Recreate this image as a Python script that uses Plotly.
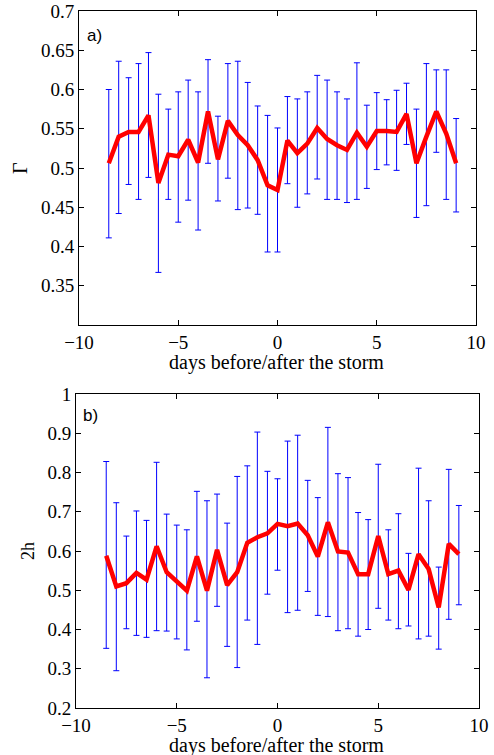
import plotly.graph_objects as go
import numpy as np

days = [-8.5, -8, -7.5, -7, -6.5, -6, -5.5, -5, -4.5, -4, -3.5, -3, -2.5, -2, -1.5, -1, -0.5, 0,
        0.5, 1, 1.5, 2, 2.5, 3, 3.5, 4, 4.5, 5, 5.5, 6, 6.5, 7, 7.5, 8, 8.5, 9]

gamma_mean = [0.506, 0.540, 0.546, 0.546, 0.567, 0.481, 0.517, 0.515, 0.536, 0.507, 0.572, 0.511,
              0.560, 0.542, 0.529, 0.510, 0.478, 0.472, 0.535, 0.519, 0.531, 0.551, 0.537, 0.529,
              0.523, 0.545, 0.527, 0.547, 0.547, 0.546, 0.569, 0.506, 0.540, 0.572, 0.544, 0.506]
gamma_upper = [0.600, 0.636, 0.615, 0.633, 0.647, 0.594, 0.575, 0.597, 0.612, 0.597, 0.638, 0.566,
               0.633, 0.636, 0.609, 0.579, 0.567, 0.551, 0.591, 0.588, 0.597, 0.618, 0.612, 0.597,
               0.588, 0.634, 0.580, 0.596, 0.587, 0.599, 0.608, 0.575, 0.633, 0.625, 0.625, 0.563]
gamma_lower = [0.411, 0.442, 0.479, 0.460, 0.488, 0.367, 0.460, 0.431, 0.459, 0.421, 0.506, 0.458,
               0.487, 0.447, 0.449, 0.441, 0.393, 0.393, 0.480, 0.450, 0.467, 0.486, 0.460, 0.460,
               0.456, 0.460, 0.474, 0.498, 0.504, 0.497, 0.530, 0.437, 0.452, 0.520, 0.460, 0.444]

h_mean = [0.588, 0.510, 0.518, 0.544, 0.527, 0.612, 0.546, 0.522, 0.499, 0.586, 0.499, 0.603,
          0.513, 0.546, 0.621, 0.635, 0.645, 0.669, 0.663, 0.670, 0.640, 0.586, 0.673, 0.599,
          0.596, 0.541, 0.541, 0.638, 0.541, 0.550, 0.501, 0.592, 0.554, 0.456, 0.618, 0.592]
h_upper = [0.828, 0.723, 0.638, 0.702, 0.678, 0.826, 0.694, 0.666, 0.654, 0.752, 0.728, 0.745,
           0.671, 0.790, 0.817, 0.903, 0.803, 0.784, 0.880, 0.895, 0.780, 0.736, 0.915, 0.797,
           0.787, 0.698, 0.680, 0.821, 0.654, 0.695, 0.594, 0.811, 0.728, 0.559, 0.808, 0.716]
h_lower = [0.352, 0.295, 0.402, 0.385, 0.380, 0.397, 0.396, 0.376, 0.348, 0.421, 0.277, 0.459,
           0.357, 0.303, 0.424, 0.362, 0.490, 0.551, 0.443, 0.449, 0.497, 0.436, 0.433, 0.397,
           0.402, 0.383, 0.400, 0.454, 0.424, 0.402, 0.409, 0.376, 0.383, 0.350, 0.426, 0.463]

x_ticks = [-10, -5, 0, 5, 10]
gamma_ticks = [0.35, 0.4, 0.45, 0.5, 0.55, 0.6, 0.65, 0.7]
h_ticks = [0.2, 0.3, 0.4, 0.5, 0.6, 0.7, 0.8, 0.9, 1.0]

W, H = 494, 755
fig = go.Figure()

def add_panel(mean, upper, lower, xa, ya):
    m = np.array(mean); u = np.array(upper); l = np.array(lower)
    fig.add_trace(go.Scatter(
        x=days, y=mean, mode="markers", xaxis=xa, yaxis=ya,
        marker=dict(size=1, color="rgba(0,0,0,0)"),
        error_y=dict(type="data", symmetric=False, array=list(u - m), arrayminus=list(m - l),
                     color="#0000ff", thickness=1, width=3),
        showlegend=False, hoverinfo="skip"))
    fig.add_trace(go.Scatter(
        x=days, y=mean, mode="lines", xaxis=xa, yaxis=ya,
        line=dict(color="#ff0000", width=4.5), showlegend=False))

add_panel(gamma_mean, gamma_upper, gamma_lower, "x", "y")
add_panel(h_mean, h_upper, h_lower, "x2", "y2")

tickfont = dict(family="Liberation Serif", size=19, color="black")
axis_common = dict(showline=True, linecolor="black", linewidth=1, mirror="ticks",
                   ticks="inside", ticklen=5, tickcolor="black", showgrid=False,
                   zeroline=False, tickfont=tickfont, automargin=False)

fig.update_layout(
    width=W, height=H, autosize=False,
    margin=dict(l=0, r=0, t=0, b=0, pad=0, autoexpand=False),
    paper_bgcolor="white", plot_bgcolor="white", showlegend=False,
    xaxis=dict(domain=[79 / W, 476 / W], range=[-10, 10], tickvals=x_ticks,
               anchor="y", **axis_common),
    yaxis=dict(domain=[1 - 325 / H, 1 - 11 / H], range=[0.3, 0.7], tickvals=gamma_ticks,
               ticktext=[f"{v:g}" for v in gamma_ticks], anchor="x", **axis_common),
    xaxis2=dict(domain=[76 / W, 479 / W], range=[-10, 10], tickvals=x_ticks,
                anchor="y2", **axis_common),
    yaxis2=dict(domain=[1 - 708 / H, 1 - 394 / H], range=[0.2, 1.0], tickvals=h_ticks,
                ticktext=[f"{v:g}" for v in h_ticks], anchor="x2", **axis_common),
)

serif = dict(family="Liberation Serif", size=20, color="black")
annots = [
    dict(text="Γ", x=20 / W, y=1 - 168 / H, textangle=-90, font=serif),
    dict(text="2h", x=28 / W, y=1 - 551 / H, textangle=-90,
         font=dict(family="Liberation Serif", size=18, color="black")),
    dict(text="days before/after the storm", x=276 / W, y=1 - 363 / H, font=serif),
    dict(text="days before/after the storm", x=276 / W, y=1 - 745 / H, font=serif),
    dict(text="a)", x=94 / W, y=1 - 36 / H,
         font=dict(family="Liberation Sans", size=17, color="black")),
    dict(text="b)", x=90 / W, y=1 - 415 / H,
         font=dict(family="Liberation Sans", size=17, color="black")),
]
for a in annots:
    fig.add_annotation(xref="paper", yref="paper", showarrow=False,
                       xanchor="center", yanchor="middle", **a)

fig.write_html("out.html")
